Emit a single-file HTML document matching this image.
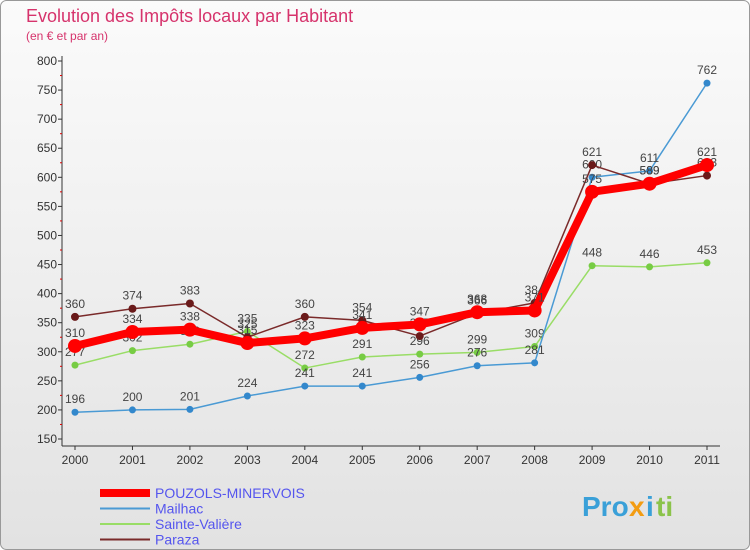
<!DOCTYPE html>
<html><head><meta charset="utf-8"><style>
body{margin:0;background:#fff}
svg{display:block;font-family:"Liberation Sans",sans-serif}
</style></head><body>
<svg width="750" height="550" viewBox="0 0 750 550">
<defs><linearGradient id="bg" x1="0" y1="0" x2="0" y2="1"><stop offset="0" stop-color="#fbfbfb"/><stop offset="1" stop-color="#e2e2e2"/></linearGradient></defs>
<rect x="0.5" y="0.5" width="749" height="549" rx="6" fill="url(#bg)" stroke="#999"/>
<text x="26" y="22" font-size="18" fill="#d6336c">Evolution des Impôts locaux par Habitant</text>
<text x="26" y="40" font-size="12" fill="#d6336c">(en € et par an)</text>
<g id="grid"></g><g id="axes"></g><g id="series"></g>
<g id="legend"></g>
<g font-size="28" font-weight="bold">
<text x="582" y="516" fill="#3aa0d8">Pro</text><text x="629" y="516" fill="#f39c12">x</text><text x="646" y="516" fill="#3aa0d8">i</text><text x="656" y="516" fill="#8bc34a">ti</text>
</g>
</svg>
<script>
const years=["2000","2001","2002","2003","2004","2005","2006","2007","2008","2009","2010","2011"];
const yTicks=[150,200,250,300,350,400,450,500,550,600,650,700,750,800];
const pouzols=[310,334,338,315,323,341,347,368,371,575,589,621];
const mailhac=[196,200,201,224,241,241,256,276,281,600,611,762];
const sainte=[277,302,313,335,272,291,296,299,309,448,446,453];
const paraza=[360,374,383,325,360,354,327,366,384,621,589,603];
const NS="http://www.w3.org/2000/svg";
function X(i){return 75+i*(707-75)/11;}
function Y(v){return 439-(v-150)*(439-61)/650;}
function mk(p,t,a){const e=document.createElementNS(NS,t);for(const k in a)e.setAttribute(k,a[k]);p.appendChild(e);return e;}
const axes=document.getElementById('axes');
let l=mk(axes,'line',{x1:62,y1:56,x2:62,y2:446,stroke:'#333'});


l=mk(axes,'line',{x1:62,y1:446,x2:720,y2:446,stroke:'#333'});


yTicks.forEach(v=>{
 const t=mk(axes,'text',{x:57,y:Y(v)+4,'text-anchor':'end','font-size':12,fill:'#333'});t.textContent=v;
 
 
 mk(axes,'line',{x1:58,y1:Y(v),x2:62,y2:Y(v),stroke:'#333'});
 if(v<800)mk(axes,'line',{x1:60,y1:Y(v+25),x2:62,y2:Y(v+25),stroke:'#d00'});
});
years.forEach((y,i)=>{
 const t=mk(axes,'text',{x:X(i),y:464,'text-anchor':'middle','font-size':12,fill:'#333'});t.textContent=y;
 
 
 mk(axes,'line',{x1:X(i),y1:446,x2:X(i),y2:450,stroke:'#333'});
});
const S=[
 {n:'Sainte-Valière',d:sainte,c:'#99dd66',f:'#77cc44',w:1.5,r:3.5},
 {n:'Mailhac',d:mailhac,c:'#4a9ad4',f:'#3388cc',w:1.5,r:3.5},
 {n:'Paraza',d:paraza,c:'#7a2a2a',f:'#6a1a1a',w:1.5,r:4},
 {n:'POUZOLS-MINERVOIS',d:pouzols,c:'#ff0000',f:'#ff0000',w:8,r:7}
];
const sg=document.getElementById('series');
S.forEach(s=>{
 const g=mk(sg,'g',{});
 
 
 mk(g,'polyline',{points:s.d.map((v,i)=>X(i)+','+Y(v)).join(' '),fill:'none',stroke:s.c,'stroke-width':s.w,'stroke-linejoin':'round'});
 s.d.forEach((v,i)=>{
  const c=mk(g,'circle',{cx:X(i),cy:Y(v),r:s.r,fill:s.f});
  
  
  const t=mk(g,'text',{x:X(i),y:Y(v)-9,'text-anchor':'middle','font-size':12,fill:'#444'});t.textContent=v;
  
  
 });
});
const lg=document.getElementById('legend');
const L=[S[3],S[1],S[0],S[2]];
L.forEach((s,k)=>{
 const y=493+k*15.5;
 const e=mk(lg,'line',{x1:100,y1:y,x2:150,y2:y,stroke:s.c,'stroke-width':k==0?8:2});
 
 
 const t=mk(lg,'text',{x:155,y:y+5,'font-size':14,fill:'#5555ee'});t.textContent=s.n;
 
 
});
</script>
</body></html>
